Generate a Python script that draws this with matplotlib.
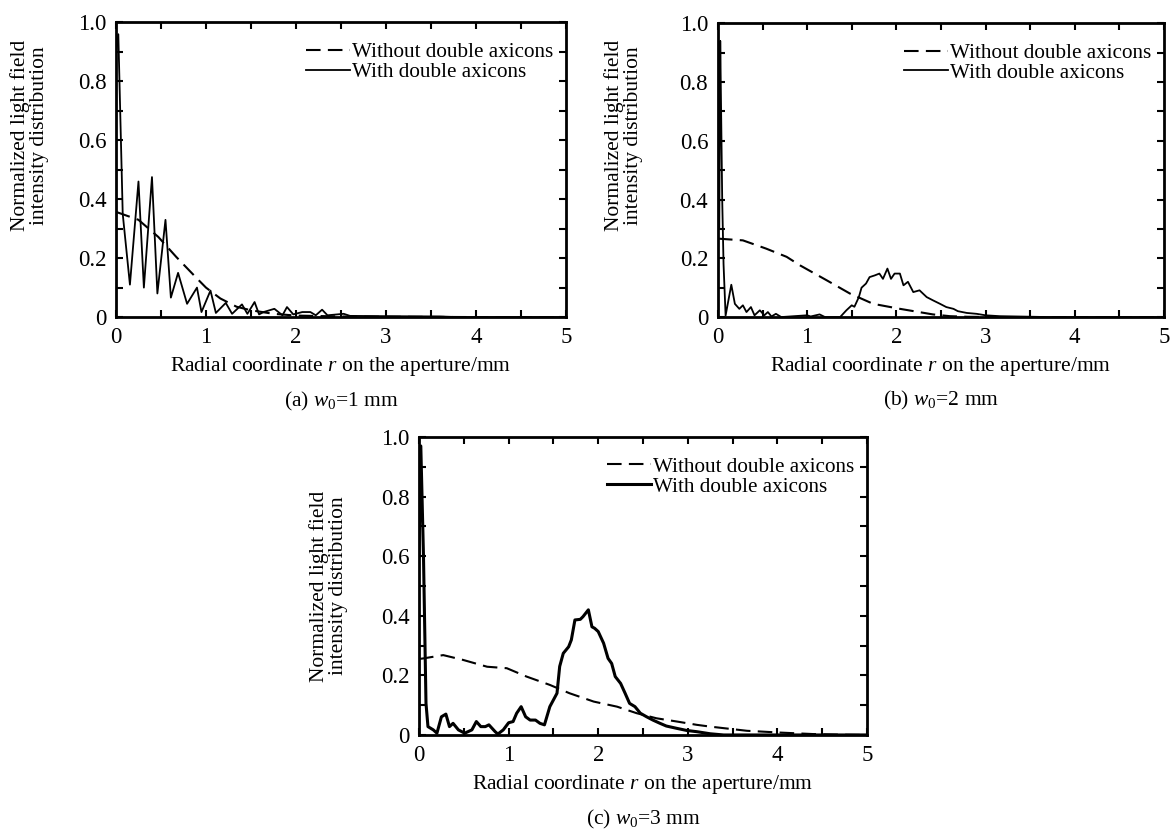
import matplotlib
matplotlib.use("Agg")
import matplotlib.pyplot as plt
from matplotlib.ticker import MultipleLocator

plt.rcParams['font.family'] = ['Liberation Serif', 'DejaVu Serif']
plt.rcParams['mathtext.fontset'] = 'custom'
plt.rcParams['mathtext.rm'] = 'Liberation Serif'
plt.rcParams['mathtext.it'] = 'Liberation Serif:italic'

# ---- data ----
# (a) w0 = 1 mm
a_with_x = [0, 0.026, 0.075, 0.155, 0.25, 0.31, 0.40, 0.46, 0.55, 0.61, 0.69, 0.79, 0.90, 0.95,
            1.05, 1.11, 1.22, 1.29, 1.40, 1.46, 1.54, 1.59, 1.64, 1.76, 1.85, 1.90, 1.97, 2.07,
            2.16, 2.22, 2.29, 2.35, 2.53, 2.60, 3.0, 3.6, 3.8, 5.0]
a_with_y = [0.90, 0.96, 0.35, 0.11, 0.46, 0.10, 0.475, 0.08, 0.33, 0.066, 0.15, 0.045, 0.10, 0.017,
            0.09, 0.014, 0.048, 0.011, 0.043, 0.011, 0.051, 0.009, 0.017, 0.028, 0.006, 0.034, 0.009, 0.017,
            0.017, 0.006, 0.025, 0.006, 0.011, 0.004, 0.003, 0.002, 0, 0]
a_without_x = [0, 0.25, 0.47, 0.67, 0.90, 1.0, 1.16, 1.34, 1.5, 1.75, 2.0, 2.5, 3.0, 4.0, 5.0]
a_without_y = [0.357, 0.33, 0.272, 0.204, 0.131, 0.10, 0.063, 0.035, 0.023, 0.011, 0.005, 0.002, 0.001, 0, 0]

# (b) w0 = 2 mm
b_with_x = [0, 0.015, 0.026, 0.037, 0.048, 0.063, 0.086, 0.15, 0.19, 0.24, 0.28, 0.32, 0.37, 0.41,
            0.47, 0.52, 0.56, 0.60, 0.65, 0.71, 1.0, 1.04, 1.14, 1.2, 1.37, 1.44, 1.50, 1.53,
            1.58, 1.61, 1.66, 1.70, 1.76, 1.81, 1.85, 1.90, 1.94, 1.98, 2.04, 2.08, 2.13, 2.19,
            2.26, 2.34, 2.41, 2.49, 2.56, 2.64, 2.69, 2.79, 2.90, 3.0, 3.16, 3.35, 3.53, 3.7, 5.0]
b_with_y = [0.30, 0.30, 0.94, 0.67, 0.40, 0.18, 0.005, 0.11, 0.045, 0.028, 0.04, 0.017, 0.034, 0.006,
            0.023, 0.006, 0.017, 0.002, 0.011, 0, 0.006, 0.002, 0.009, 0, 0, 0.023, 0.04, 0.035,
            0.068, 0.10, 0.114, 0.136, 0.142, 0.148, 0.13, 0.165, 0.13, 0.148, 0.148, 0.108, 0.12, 0.085,
            0.091, 0.068, 0.057, 0.045, 0.034, 0.028, 0.020, 0.014, 0.011, 0.006, 0.003, 0.002, 0.001, 0, 0]
b_without_x = [0, 0.28, 0.54, 0.77, 0.92, 1.22, 1.48, 1.74, 2.04, 2.41, 2.6, 2.79, 3.2, 5.0]
b_without_y = [0.267, 0.261, 0.233, 0.205, 0.176, 0.125, 0.08, 0.045, 0.028, 0.009, 0.003, 0.001, 0, 0]

# (c) w0 = 3 mm
c_with_x = [0, 0.02, 0.05, 0.078, 0.10, 0.16, 0.20, 0.25, 0.30, 0.34, 0.38, 0.44, 0.51, 0.59,
            0.64, 0.69, 0.74, 0.78, 0.85, 0.88, 0.94, 1.0, 1.05, 1.09, 1.14, 1.19, 1.24, 1.30,
            1.35, 1.40, 1.46, 1.54, 1.57, 1.61, 1.67, 1.70, 1.74, 1.80, 1.83, 1.89, 1.93, 1.96,
            2.0, 2.06, 2.11, 2.15, 2.19, 2.25, 2.30, 2.35, 2.41, 2.47, 2.54, 2.61, 2.69, 2.76,
            2.88, 2.99, 3.10, 3.25, 3.4, 5.0]
c_with_y = [0.6, 0.97, 0.6, 0.106, 0.028, 0.017, 0.006, 0.061, 0.07, 0.028, 0.039, 0.017, 0.006, 0.017,
            0.045, 0.028, 0.028, 0.034, 0.011, 0.003, 0.017, 0.041, 0.045, 0.073, 0.095, 0.061, 0.05, 0.05,
            0.039, 0.034, 0.095, 0.14, 0.23, 0.274, 0.296, 0.319, 0.386, 0.388, 0.397, 0.42, 0.363, 0.358,
            0.347, 0.308, 0.257, 0.24, 0.196, 0.173, 0.14, 0.106, 0.095, 0.073, 0.061, 0.05, 0.039, 0.03,
            0.022, 0.015, 0.011, 0.004, 0, 0]
c_without_x = [0, 0.05, 0.27, 0.49, 0.76, 0.98, 1.20, 1.46, 1.68, 1.95, 2.21, 2.43, 2.65, 2.88,
               3.1, 3.25, 3.66, 4.03, 4.4, 4.7, 5.0]
c_without_y = [0.255, 0.257, 0.268, 0.252, 0.229, 0.224, 0.196, 0.168, 0.14, 0.112, 0.095, 0.073, 0.056, 0.045,
               0.034, 0.028, 0.014, 0.008, 0.003, 0.001, 0.0]

xticks = [0, 1, 2, 3, 4, 5]
yticks = [0, 0.2, 0.4, 0.6, 0.8, 1.0]
ytick_labels = ['0', '0.2', '0.4', '0.6', '0.8', '1.0']
xlabel = 'Radial coordinate $\\mathit{r}$ on the aperture/mm'
ylabel = 'Normalized light field\nintensity distribution'
captions = ['(a) $\\mathit{w}_{0}$=1 mm', '(b) $\\mathit{w}_{0}$=2 mm', '(c) $\\mathit{w}_{0}$=3 mm']
legend_labels = ['Without double axicons', 'With double axicons']

fig = plt.figure(figsize=(11.75, 8.3), dpi=100)

# axes rectangles in figure fraction
ax_a = fig.add_axes([0.0987, 0.618, 0.383, 0.355])
ax_b = fig.add_axes([0.611, 0.618, 0.3796, 0.354])
ax_c = fig.add_axes([0.3566, 0.1145, 0.3813, 0.359])

panels = [
    (ax_a, a_without_x, a_without_y, a_with_x, a_with_y, 1.3, 0.617, -0.148),
    (ax_b, b_without_x, b_without_y, b_with_x, b_with_y, 1.3, 0.617, -0.168),
    (ax_c, c_without_x, c_without_y, c_with_x, c_with_y, 2.2, 0.5, -0.158),
]

for i, (ax, wx, wy, sx, sy, lw, ylab_y, ylab_x) in enumerate(panels):
    ax.plot(wx, wy, color='black', lw=1.5, linestyle=(0, (7, 3.5)), label=legend_labels[0])
    ax.plot(sx, sy, color='black', lw=lw, label=legend_labels[1])
    ax.set_xlim(0, 5)
    ax.set_ylim(0, 1)
    ax.set_xticks(xticks)
    ax.set_yticks(yticks)
    ax.set_yticklabels(ytick_labels)
    ax.xaxis.set_minor_locator(MultipleLocator(0.5))
    ax.yaxis.set_minor_locator(MultipleLocator(0.1))
    ax.tick_params(which='both', direction='in', top=True, right=True,
                   length=5, width=1.5, labelsize=16.5, pad=7)
    for sp in ax.spines.values():
        sp.set_linewidth(2)
    ax.set_xlabel(xlabel, fontsize=15.5, labelpad=5)
    ax.set_ylabel(ylabel, fontsize=15.5, linespacing=1.0)
    ax.yaxis.set_label_coords(ylab_x, ylab_y)
    ax.legend(loc='upper right', bbox_to_anchor=(1.0, 0.975), frameon=False,
              fontsize=15.2, handlelength=2.1, handletextpad=0.1, labelspacing=0.0,
              borderaxespad=0.2)
    ax.text(0.5, -0.285, captions[i], transform=ax.transAxes, ha='center', va='center', fontsize=15.5)

fig.savefig('out.png', dpi=100)
